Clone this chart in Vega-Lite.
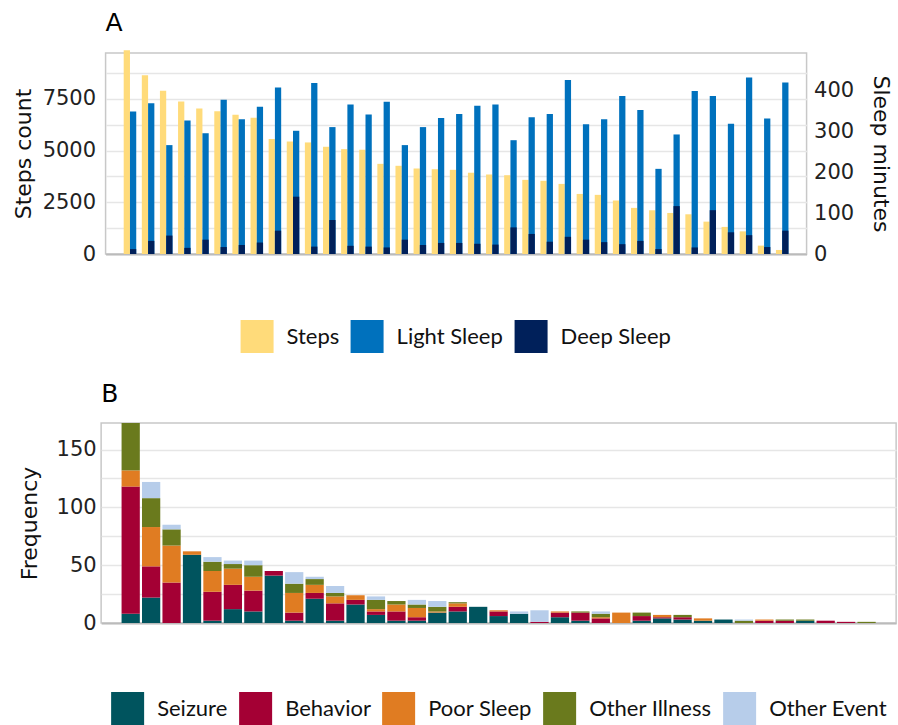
{
  "$schema": "https://vega.github.io/schema/vega-lite/v6.json",
  "padding": {"left": 11, "top": 10, "right": 1, "bottom": 0},
  "background": "white",
  "config": {
    "view": {"stroke": "#C8C8C8", "strokeWidth": 1.5},
    "font": "DejaVu Sans",
    "axis": {"labelFont": "DejaVu Sans", "titleFont": "DejaVu Sans", "labelFontSize": 21, "titleFontSize": 22, "titleFontWeight": "normal", "labelColor": "#222222", "titleColor": "#111111", "gridColor": "#E6E6E6", "gridWidth": 1.5, "ticks": false, "domain": false},
    "legend": {"orient": "bottom", "direction": "horizontal", "labelFont": "Lato", "labelFontSize": 22, "labelColor": "#111111", "symbolType": "square", "symbolSize": 1089, "symbolStrokeWidth": 0, "labelOffset": 13, "columnPadding": 11, "symbolOpacity": 1, "layout": {"bottom": {"anchor": "middle"}}},
    "title": {"font": "DejaVu Sans", "fontSize": 25, "fontWeight": "normal", "anchor": "start", "frame": "group", "color": "#000000"},
    "concat": {"spacing": 27}
  },
  "resolve": {"scale": {"color": "independent"}, "legend": {"color": "independent"}},
  "center": true,
  "datasets": {
    "sleep": [
      {"g": 1, "steps": 9850, "light": 348, "deep": 12},
      {"g": 2, "steps": 8640, "light": 368, "deep": 32},
      {"g": 3, "steps": 7900, "light": 266, "deep": 45},
      {"g": 4, "steps": 7380, "light": 326, "deep": 15},
      {"g": 5, "steps": 7040, "light": 295, "deep": 35},
      {"g": 6, "steps": 6900, "light": 377, "deep": 17},
      {"g": 7, "steps": 6735, "light": 329, "deep": 22},
      {"g": 8, "steps": 6590, "light": 360, "deep": 28},
      {"g": 9, "steps": 5560, "light": 407, "deep": 57},
      {"g": 10, "steps": 5440, "light": 301, "deep": 140},
      {"g": 11, "steps": 5395, "light": 418, "deep": 18},
      {"g": 12, "steps": 5185, "light": 310, "deep": 83},
      {"g": 13, "steps": 5070, "light": 365, "deep": 20},
      {"g": 14, "steps": 5040, "light": 341, "deep": 18},
      {"g": 15, "steps": 4360, "light": 372, "deep": 16},
      {"g": 16, "steps": 4265, "light": 266, "deep": 35},
      {"g": 17, "steps": 4135, "light": 310, "deep": 22},
      {"g": 18, "steps": 4100, "light": 332, "deep": 27},
      {"g": 19, "steps": 4070, "light": 342, "deep": 27},
      {"g": 20, "steps": 3930, "light": 362, "deep": 25},
      {"g": 21, "steps": 3845, "light": 365, "deep": 23},
      {"g": 22, "steps": 3810, "light": 278, "deep": 65},
      {"g": 23, "steps": 3585, "light": 334, "deep": 49},
      {"g": 24, "steps": 3540, "light": 342, "deep": 30},
      {"g": 25, "steps": 3390, "light": 425, "deep": 42},
      {"g": 26, "steps": 2905, "light": 317, "deep": 35},
      {"g": 27, "steps": 2860, "light": 329, "deep": 29},
      {"g": 28, "steps": 2585, "light": 386, "deep": 24},
      {"g": 29, "steps": 2230, "light": 352, "deep": 32},
      {"g": 30, "steps": 2115, "light": 208, "deep": 12},
      {"g": 31, "steps": 1985, "light": 292, "deep": 117},
      {"g": 32, "steps": 1920, "light": 398, "deep": 16},
      {"g": 33, "steps": 1565, "light": 386, "deep": 107},
      {"g": 34, "steps": 1310, "light": 318, "deep": 53},
      {"g": 35, "steps": 1095, "light": 431, "deep": 46},
      {"g": 36, "steps": 405, "light": 331, "deep": 17},
      {"g": 37, "steps": 195, "light": 419, "deep": 57}
    ],
    "events": [
      {"p": 1, "type": "Seizure", "n": 8}, {"p": 1, "type": "Behavior", "n": 110}, {"p": 1, "type": "Poor Sleep", "n": 14}, {"p": 1, "type": "Other Illness", "n": 41},
      {"p": 2, "type": "Seizure", "n": 22}, {"p": 2, "type": "Behavior", "n": 27}, {"p": 2, "type": "Poor Sleep", "n": 34}, {"p": 2, "type": "Other Illness", "n": 25}, {"p": 2, "type": "Other Event", "n": 14},
      {"p": 3, "type": "Behavior", "n": 35}, {"p": 3, "type": "Poor Sleep", "n": 32}, {"p": 3, "type": "Other Illness", "n": 14}, {"p": 3, "type": "Other Event", "n": 4},
      {"p": 4, "type": "Seizure", "n": 59}, {"p": 4, "type": "Poor Sleep", "n": 3},
      {"p": 5, "type": "Seizure", "n": 2}, {"p": 5, "type": "Behavior", "n": 25}, {"p": 5, "type": "Poor Sleep", "n": 18}, {"p": 5, "type": "Other Illness", "n": 8}, {"p": 5, "type": "Other Event", "n": 4},
      {"p": 6, "type": "Seizure", "n": 12}, {"p": 6, "type": "Behavior", "n": 21}, {"p": 6, "type": "Poor Sleep", "n": 14}, {"p": 6, "type": "Other Illness", "n": 4}, {"p": 6, "type": "Other Event", "n": 3},
      {"p": 7, "type": "Seizure", "n": 10}, {"p": 7, "type": "Behavior", "n": 18}, {"p": 7, "type": "Poor Sleep", "n": 12}, {"p": 7, "type": "Other Illness", "n": 10}, {"p": 7, "type": "Other Event", "n": 4},
      {"p": 8, "type": "Seizure", "n": 41}, {"p": 8, "type": "Behavior", "n": 4},
      {"p": 9, "type": "Seizure", "n": 2}, {"p": 9, "type": "Behavior", "n": 7}, {"p": 9, "type": "Poor Sleep", "n": 17}, {"p": 9, "type": "Other Illness", "n": 8}, {"p": 9, "type": "Other Event", "n": 10},
      {"p": 10, "type": "Seizure", "n": 21}, {"p": 10, "type": "Behavior", "n": 5}, {"p": 10, "type": "Poor Sleep", "n": 7}, {"p": 10, "type": "Other Illness", "n": 5}, {"p": 10, "type": "Other Event", "n": 2},
      {"p": 11, "type": "Seizure", "n": 2}, {"p": 11, "type": "Behavior", "n": 15}, {"p": 11, "type": "Poor Sleep", "n": 6}, {"p": 11, "type": "Other Illness", "n": 3}, {"p": 11, "type": "Other Event", "n": 6},
      {"p": 12, "type": "Seizure", "n": 16}, {"p": 12, "type": "Behavior", "n": 4}, {"p": 12, "type": "Poor Sleep", "n": 4},
      {"p": 13, "type": "Seizure", "n": 7}, {"p": 13, "type": "Behavior", "n": 3}, {"p": 13, "type": "Poor Sleep", "n": 2}, {"p": 13, "type": "Other Illness", "n": 8}, {"p": 13, "type": "Other Event", "n": 3},
      {"p": 14, "type": "Seizure", "n": 2}, {"p": 14, "type": "Behavior", "n": 8}, {"p": 14, "type": "Poor Sleep", "n": 6}, {"p": 14, "type": "Other Illness", "n": 3},
      {"p": 15, "type": "Seizure", "n": 2}, {"p": 15, "type": "Behavior", "n": 3}, {"p": 15, "type": "Poor Sleep", "n": 8}, {"p": 15, "type": "Other Illness", "n": 3}, {"p": 15, "type": "Other Event", "n": 4},
      {"p": 16, "type": "Seizure", "n": 9}, {"p": 16, "type": "Poor Sleep", "n": 1}, {"p": 16, "type": "Other Illness", "n": 4}, {"p": 16, "type": "Other Event", "n": 5},
      {"p": 17, "type": "Seizure", "n": 10}, {"p": 17, "type": "Behavior", "n": 4}, {"p": 17, "type": "Poor Sleep", "n": 3}, {"p": 17, "type": "Other Illness", "n": 1},
      {"p": 18, "type": "Seizure", "n": 14},
      {"p": 19, "type": "Seizure", "n": 6}, {"p": 19, "type": "Behavior", "n": 4}, {"p": 19, "type": "Poor Sleep", "n": 1},
      {"p": 20, "type": "Seizure", "n": 8}, {"p": 20, "type": "Other Event", "n": 2},
      {"p": 21, "type": "Behavior", "n": 1}, {"p": 21, "type": "Other Event", "n": 10},
      {"p": 22, "type": "Seizure", "n": 5}, {"p": 22, "type": "Behavior", "n": 4}, {"p": 22, "type": "Poor Sleep", "n": 1},
      {"p": 23, "type": "Seizure", "n": 2}, {"p": 23, "type": "Behavior", "n": 7}, {"p": 23, "type": "Other Illness", "n": 1},
      {"p": 24, "type": "Behavior", "n": 4}, {"p": 24, "type": "Poor Sleep", "n": 1}, {"p": 24, "type": "Other Illness", "n": 3}, {"p": 24, "type": "Other Event", "n": 2},
      {"p": 25, "type": "Poor Sleep", "n": 9},
      {"p": 26, "type": "Seizure", "n": 2}, {"p": 26, "type": "Behavior", "n": 4}, {"p": 26, "type": "Other Illness", "n": 3},
      {"p": 27, "type": "Seizure", "n": 4}, {"p": 27, "type": "Behavior", "n": 1}, {"p": 27, "type": "Poor Sleep", "n": 2},
      {"p": 28, "type": "Seizure", "n": 3}, {"p": 28, "type": "Behavior", "n": 2}, {"p": 28, "type": "Other Illness", "n": 2},
      {"p": 29, "type": "Seizure", "n": 2}, {"p": 29, "type": "Poor Sleep", "n": 2},
      {"p": 30, "type": "Seizure", "n": 3},
      {"p": 31, "type": "Other Illness", "n": 2}, {"p": 31, "type": "Other Event", "n": 1},
      {"p": 32, "type": "Behavior", "n": 2}, {"p": 32, "type": "Poor Sleep", "n": 1},
      {"p": 33, "type": "Behavior", "n": 2}, {"p": 33, "type": "Other Illness", "n": 1},
      {"p": 34, "type": "Seizure", "n": 2}, {"p": 34, "type": "Other Illness", "n": 1},
      {"p": 35, "type": "Behavior", "n": 2},
      {"p": 36, "type": "Behavior", "n": 1},
      {"p": 37, "type": "Other Illness", "n": 1}
    ]
  },
  "vconcat": [
    {
      "title": {"text": "A", "offset": 14},
      "width": 701,
      "height": 201,
      "data": {"name": "sleep"},
      "encoding": {
        "x": {"field": "g", "type": "ordinal", "scale": {"paddingInner": 0.308, "paddingOuter": 1.86},
              "axis": {"labels": false, "title": null, "domain": true, "domainColor": "#BBBBBB", "domainWidth": 2, "ticks": false, "grid": false}}
      },
      "layer": [
        {
          "mark": {"type": "bar", "clip": false},
          "encoding": {
            "xOffset": {"datum": "Steps", "scale": {"domain": ["Steps", "Sleep"], "paddingInner": 0, "paddingOuter": 0}},
            "y": {"field": "steps", "type": "quantitative", "scale": {"domain": [0, 9720], "nice": false},
                  "axis": {"title": "Steps count", "orient": "left", "values": [0, 1250, 2500, 3750, 5000, 6250, 7500, 8750], "format": "d", "labelExpr": "datum.value % 2500 == 0 ? datum.label : ''", "grid": true, "labelPadding": 10, "titlePadding": 7}},
            "color": {"datum": "Steps", "type": "nominal", "scale": {"domain": ["Steps", "Light Sleep", "Deep Sleep"], "range": ["#FFDB7A", "#0071BD", "#00205A"]}, "legend": {"title": null, "offset": 66}}
          }
        },
        {
          "layer": [
            {
              "mark": {"type": "bar"},
              "encoding": {
                "xOffset": {"datum": "Sleep"},
                "y": {"field": "light", "type": "quantitative", "scale": {"domain": [0, 491], "nice": false},
                      "axis": {"title": "Sleep minutes", "orient": "right", "values": [0, 100, 200, 300, 400], "grid": false, "labelPadding": 7, "titlePadding": 15}},
                "color": {"datum": "Light Sleep", "type": "nominal"}
              }
            },
            {
              "mark": {"type": "bar"},
              "encoding": {
                "xOffset": {"datum": "Sleep"},
                "y": {"field": "deep", "type": "quantitative"},
                "color": {"datum": "Deep Sleep", "type": "nominal"}
              }
            }
          ]
        }
      ],
      "resolve": {"scale": {"y": "independent"}, "axis": {"y": "independent"}}
    },
    {
      "title": {"text": "B", "offset": 16},
      "width": 795,
      "height": 200,
      "data": {"name": "events"},
      "transform": [{"calculate": "indexof(['Seizure', 'Behavior', 'Poor Sleep', 'Other Illness', 'Other Event'], datum.type)", "as": "k"}],
      "mark": {"type": "bar", "clip": false},
      "encoding": {
        "x": {"field": "p", "type": "ordinal", "scale": {"paddingInner": 0.107, "paddingOuter": 1.84},
              "axis": {"labels": false, "title": null, "domain": true, "domainColor": "#BBBBBB", "domainWidth": 2, "ticks": false, "grid": false}},
        "y": {"field": "n", "type": "quantitative", "aggregate": "sum", "stack": "zero", "scale": {"domain": [0, 173], "nice": false},
              "axis": {"title": "Frequency", "values": [0, 25, 50, 75, 100, 125, 150], "labelExpr": "datum.value % 50 == 0 ? datum.label : ''", "grid": true, "labelPadding": 5, "titlePadding": 15}},
        "order": {"field": "k", "type": "quantitative", "sort": "ascending"},
        "color": {"field": "type", "type": "nominal", "sort": ["Seizure", "Behavior", "Poor Sleep", "Other Illness", "Other Event"],
                  "scale": {"domain": ["Seizure", "Behavior", "Poor Sleep", "Other Illness", "Other Event"], "range": ["#00545E", "#A40034", "#E07C22", "#6A7A1D", "#B7CDEA"]},
                  "legend": {"title": null, "offset": 69}}
      }
    }
  ]
}
